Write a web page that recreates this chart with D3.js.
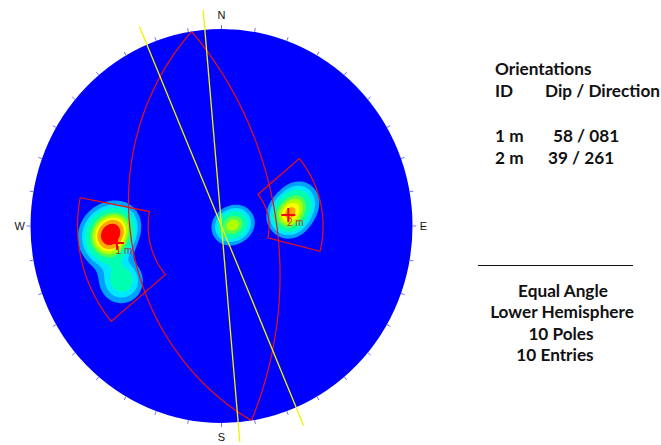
<!DOCTYPE html>
<html><head><meta charset="utf-8">
<script src="https://cdn.jsdelivr.net/npm/d3@7"></script>
<style>html,body{margin:0;padding:0;background:#fff;} svg{display:block}</style>
</head><body>
<svg id="chart" width="661" height="445"></svg>
<script>
// ---- data ----
const poleTrends  = [265, 262, 267, 271, 242, 78, 105, 83, 80, 73];
const polePlunges = [28.5, 28, 29.5, 34, 29, 80, 86, 52, 50.5, 44];
const planeIds = ["1 m", "2 m"];
const planeDips = [58, 39];
const planeDipDirections = [81, 261];
const windowTrendMin = [230, 50];
const windowTrendMax = [281, 104];
const windowPlungeMin = [16, 34];
const windowPlungeMax = [48, 62];
const lineAzimuths = [355, 337];
const contourLevels = [0.25, 0.45, 0.7, 1.15, 1.45, 1.8, 2.1, 2.6];
const contourColors = ["#00a0ff", "#00e8ff", "#00ffb0", "#50ff50", "#b0ff00", "#ffff00", "#ffa500", "#ff0000"];
const compassLabels = ["N", "E", "S", "W"];
const compassAzimuths = [0, 90, 180, 270];
const tickAzimuths = d3.range(0, 360, 10);
const projectionName = "Equal Angle";
const hemisphereName = "Lower Hemisphere";
const entryCount = 10;

// ---- setup ----
const rad = Math.PI / 180;
const svg = d3.select("#chart");
const xs = d3.scaleLinear().domain([-1, 1]).range([30.5, 412.5]);
const ys = d3.scaleLinear().domain([-1, 1]).range([423, 29]);
const rx = (xs(1) - xs(-1)) / 2, ry = (ys(-1) - ys(1)) / 2;

function project(trend, plunge) {
  const r = Math.tan((90 - plunge) / 2 * rad);
  return [r * Math.sin(trend * rad), r * Math.cos(trend * rad)];
}
function vec(trend, plunge) {
  return [Math.cos(plunge * rad) * Math.sin(trend * rad), Math.cos(plunge * rad) * Math.cos(trend * rad), Math.sin(plunge * rad)];
}
const lineGen = d3.line().x(d => xs(d[0])).y(d => ys(d[1]));

svg.append("defs").append("clipPath").attr("id", "clip")
  .append("ellipse").attr("cx", xs(0)).attr("cy", ys(0)).attr("rx", rx).attr("ry", ry);

svg.append("ellipse").attr("cx", xs(0)).attr("cy", ys(0)).attr("rx", rx).attr("ry", ry).attr("fill", "#0000ff");

// ---- density ----
const poles = poleTrends.map((t, i) => vec(t, polePlunges[i]));
const n = 240, kappa = 100;
const values = new Float64Array(n * n);
for (let j = 0; j < n; j++) {
  const v = 1 - (j + 0.5) * 2 / n;
  for (let i = 0; i < n; i++) {
    const u = -1 + (i + 0.5) * 2 / n;
    const r = Math.hypot(u, v);
    const p = 90 - 2 * Math.atan(r) / rad;
    const t = Math.atan2(u, v) / rad;
    const a = vec(t, p);
    let s = 0;
    for (const b of poles) {
      const c = Math.abs(a[0] * b[0] + a[1] * b[1] + a[2] * b[2]);
      s += Math.exp(kappa * (c - 1));
    }
    values[j * n + i] = s;
  }
}
const contours = d3.contours().size([n, n]).thresholds(contourLevels)(values);
const gridPath = d3.geoPath(d3.geoTransform({
  point(x, y) { this.stream.point(xs(-1 + x * 2 / n), ys(1 - y * 2 / n)); }
}));
const cg = svg.append("g").attr("clip-path", "url(#clip)");
cg.selectAll("path.c").data(contours).join("path").attr("class", "c")
  .attr("d", gridPath).attr("fill", (d, i) => contourColors[i]);

// ---- great circles ----
const gcData = planeDips.map((dip, k) => d3.range(-90, 90.5, 1).map(a => {
  const pa = Math.atan(Math.tan(dip * rad) * Math.cos(a * rad)) / rad;
  return project(planeDipDirections[k] + a, pa);
}));
cg.selectAll("path.gc").data(gcData).join("path").attr("class", "gc")
  .attr("d", lineGen).attr("fill", "none").attr("stroke", "#ee1010").attr("stroke-width", 1.2);

// ---- windows ----
const winData = windowTrendMin.map((t1, k) => {
  const t2 = windowTrendMax[k];
  const outer = d3.range(t1, t2 + 0.01, 1).map(t => project(t, windowPlungeMin[k]));
  const inner = d3.range(t2, t1 - 0.01, -1).map(t => project(t, windowPlungeMax[k]));
  return outer.concat(inner);
});
cg.selectAll("path.win").data(winData).join("path").attr("class", "win")
  .attr("d", d => lineGen(d) + "Z").attr("fill", "none").attr("stroke", "#ee1010").attr("stroke-width", 1.2);

// ---- mean poles ----
const meanPoles = planeDips.map((dip, k) => project((planeDipDirections[k] + 180) % 360, 90 - dip));
const mp = cg.selectAll("g.mp").data(meanPoles).join("g").attr("class", "mp")
  .attr("transform", d => `translate(${xs(d[0])},${ys(d[1])})`);
mp.append("path").attr("d", "M-7,0H7M0,-7V7").attr("stroke", "#ff0000").attr("stroke-width", 2);
mp.append("text").text((d, k) => planeIds[k]).attr("x", 7).attr("y", 11)
  .attr("text-anchor", "middle").attr("font-family", "Liberation Sans, Arial, sans-serif")
  .attr("font-size", 10).attr("fill", "#c00040").attr("opacity", 0.8);

// ---- yellow lines ----
svg.selectAll("path.yl").data(lineAzimuths).join("path").attr("class", "yl")
  .attr("d", az => lineGen([[1.1 * Math.sin(az * rad), 1.1 * Math.cos(az * rad)], [1.1 * Math.sin((az + 180) * rad), 1.1 * Math.cos((az + 180) * rad)]]))
  .attr("stroke", "#f2f200").attr("stroke-width", 1.3).attr("fill", "none");

// ---- ticks ----
svg.selectAll("line.tk").data(tickAzimuths).join("line").attr("class", "tk")
  .attr("x1", a => xs(Math.sin(a * rad))).attr("y1", a => ys(Math.cos(a * rad)))
  .attr("x2", a => xs(1.02 * Math.sin(a * rad))).attr("y2", a => ys(1.02 * Math.cos(a * rad)))
  .attr("stroke", "#7070ff").attr("stroke-width", 1);

// ---- compass labels ----
svg.selectAll("text.cp").data(compassLabels).join("text").attr("class", "cp")
  .attr("x", (d, i) => xs(1.057 * Math.sin(compassAzimuths[i] * rad)))
  .attr("y", (d, i) => ys(1.07 * Math.cos(compassAzimuths[i] * rad)))
  .attr("dy", "0.35em").attr("text-anchor", "middle")
  .attr("font-family", "Liberation Sans, Arial, sans-serif").attr("font-size", 11).attr("fill", "#111")
  .text(d => d);

// ---- info text ----
const font = "Lato, 'Open Sans', sans-serif";
const info = svg.append("g").attr("font-family", font).attr("font-weight", "bold").attr("font-size", 17.2).attr("fill", "#111");
info.append("text").attr("x", 495).attr("y", 75).text("Orientations");
info.append("text").attr("x", 495).attr("y", 97).text("ID");
info.append("text").attr("x", 545).attr("y", 97).text("Dip / Direction");
const fmt = d3.format("03d");
const valueX = [553, 548];
planeIds.forEach((id, k) => {
  const y = 142 + k * 22;
  info.append("text").attr("x", 495).attr("y", y).text(id);
  info.append("text").attr("x", valueX[k]).attr("y", y).text(`${planeDips[k]} / ${fmt(planeDipDirections[k])}`);
});
svg.append("line").attr("x1", 478).attr("x2", 633).attr("y1", 265.5).attr("y2", 265.5).attr("stroke", "#111").attr("stroke-width", 1.2);
const lower = [projectionName, hemisphereName, `${poleTrends.length} Poles`, `${entryCount} Entries`];
const lowerX = [563, 562, 561, 555];
lower.forEach((s, k) => {
  info.append("text").attr("x", lowerX[k]).attr("y", 296.5 + k * 21.6).attr("text-anchor", "middle").text(s);
});
</script>
</body></html>
